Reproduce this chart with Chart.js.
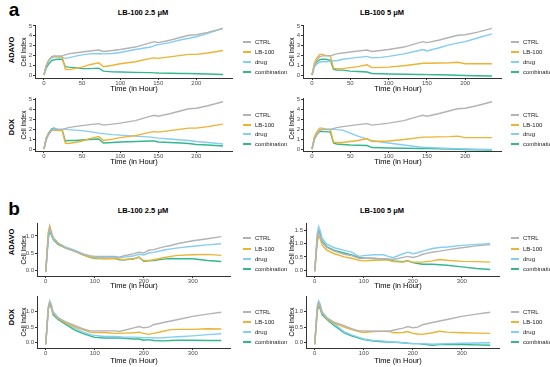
<!DOCTYPE html>
<html>
<head>
<meta charset="utf-8">
<script src="https://cdn.jsdelivr.net/npm/chart.js@4.4.0/dist/chart.umd.min.js"></script>
<style>
  body { margin: 0; width: 550px; height: 367px; background: #fff; position: relative; overflow: hidden; font-family: "Liberation Sans", Arial, sans-serif; }
  canvas { position: absolute; }
  .txt { position: absolute; white-space: nowrap; line-height: 1; }
  .key { position: absolute; height: 1.5px; width: 8px; }
</style>
</head>
<body>
<script>
// Series names + colours
const SERIES = ["CTRL", "LB-100", "drug", "combination"];
const COLORS = ["#b3b3b3", "#ecb335", "#85cdf2", "#33b78e"];

// Time grids (hours)
const HOURS_A = [0, 3, 6, 10, 13, 18, 24, 28, 32, 40, 50, 60, 72, 78, 90, 100, 120, 140, 145, 150, 165, 180, 190, 200, 215, 235];
const HOURS_B = [0, 5, 8, 11, 15, 25, 40, 60, 75, 90, 100, 120, 140, 150, 160, 180, 190, 200, 210, 220, 240, 255, 270, 300, 330, 358];

// Tick labels
const X_TICKS_A = [0, 50, 100, 150, 200];
const Y_TICKS_A = [0, 1, 2, 3, 4, 5];
const X_TICKS_B = [0, 100, 200, 300];
const Y_TICKS_B = [0, 0.5, 1];
const Y_TICKS_B_HI = [0, 0.5, 1, 1.5];

// Panel a
const A_CTRL = [0, 0.9, 1.45, 1.85, 1.95, 1.95, 1.95, 2.05, 2.15, 2.25, 2.35, 2.45, 2.55, 2.4, 2.5, 2.6, 2.85, 3.3, 3.4, 3.3, 3.55, 3.85, 4.05, 4.1, 4.35, 4.75];
const A_LB25 = [0, 1.0, 1.5, 1.85, 1.9, 1.85, 1.85, 0.6, 0.55, 0.65, 0.8, 1.05, 1.25, 0.85, 1.0, 1.15, 1.35, 1.7, 1.75, 1.7, 1.85, 2.0, 2.1, 2.1, 2.25, 2.5];
const A_LB5 = [0, 1.2, 1.7, 2.1, 2.1, 2.0, 1.95, 0.7, 0.65, 0.65, 0.75, 0.85, 1.05, 0.75, 0.78, 0.8, 0.95, 1.15, 1.2, 1.2, 1.22, 1.25, 1.3, 1.15, 1.15, 1.15];
const A_ADAVO_DRUG25 = [0, 0.9, 1.4, 1.75, 1.85, 1.85, 1.8, 1.7, 1.75, 1.9, 2.05, 2.15, 2.2, 2.15, 2.2, 2.3, 2.6, 2.85, 3.0, 3.1, 3.3, 3.6, 3.75, 3.9, 4.25, 4.75];
const A_ADAVO_COMBO25 = [0, 0.7, 1.1, 1.45, 1.55, 1.6, 1.6, 0.85, 0.8, 0.75, 0.65, 0.65, 0.7, 0.4, 0.32, 0.3, 0.27, 0.24, 0.22, 0.2, 0.18, 0.16, 0.15, 0.13, 0.1, 0.05];
const A_ADAVO_DRUG5 = [0, 0.8, 1.1, 1.3, 1.35, 1.35, 1.4, 1.45, 1.45, 1.6, 1.7, 1.8, 1.9, 1.75, 1.8, 1.9, 2.15, 2.5, 2.6, 2.45, 2.75, 3.1, 3.25, 3.4, 3.75, 4.2];
const A_ADAVO_COMBO5 = [0, 0.9, 1.3, 1.55, 1.6, 1.6, 1.5, 0.6, 0.5, 0.5, 0.4, 0.35, 0.3, 0.15, 0.12, 0.1, 0.08, 0.05, 0.05, 0.04, 0.02, 0, -0.02, -0.05, -0.08, -0.1];
const A_DOX_DRUG25 = [0, 1.0, 1.5, 1.9, 2.05, 2.0, 2.0, 2.0, 1.95, 1.9, 1.85, 1.75, 1.6, 1.55, 1.45, 1.4, 1.3, 1.2, 1.15, 1.1, 1.0, 0.9, 0.85, 0.75, 0.65, 0.5];
const A_DOX_COMBO25 = [0, 1.1, 1.6, 2.0, 2.1, 1.95, 1.9, 0.8, 0.85, 0.85, 0.9, 0.95, 1.0, 0.6, 0.65, 0.7, 0.75, 0.8, 0.8, 0.7, 0.65, 0.6, 0.55, 0.45, 0.4, 0.3];
const A_DOX_DRUG5 = [0, 1.0, 1.5, 1.9, 2.0, 2.0, 2.0, 2.0, 1.95, 1.9, 1.6, 1.3, 1.0, 0.85, 0.7, 0.6, 0.4, 0.2, 0.17, 0.15, 0.1, 0.05, 0.03, 0, -0.03, -0.05];
const A_DOX_COMBO5 = [0, 1.0, 1.4, 1.75, 1.75, 1.75, 1.7, 0.6, 0.5, 0.45, 0.4, 0.38, 0.35, 0.15, 0.12, 0.1, 0.08, 0.05, 0.05, 0.05, 0.02, 0, -0.02, -0.05, -0.08, -0.1];

// Panel b
const B_ADAVO25_CTRL = [-0.05, 1.0, 1.25, 1.1, 0.95, 0.8, 0.65, 0.55, 0.47, 0.42, 0.4, 0.4, 0.4, 0.38, 0.42, 0.48, 0.52, 0.5, 0.58, 0.6, 0.68, 0.72, 0.78, 0.86, 0.92, 0.98];
const B_ADAVO25_LB = [-0.05, 1.1, 1.3, 1.15, 0.95, 0.78, 0.65, 0.55, 0.45, 0.37, 0.35, 0.33, 0.33, 0.32, 0.3, 0.33, 0.37, 0.28, 0.28, 0.3, 0.36, 0.4, 0.43, 0.45, 0.46, 0.43];
const B_ADAVO25_DRUG = [-0.05, 1.0, 1.2, 1.1, 0.92, 0.78, 0.68, 0.58, 0.48, 0.4, 0.37, 0.36, 0.37, 0.36, 0.38, 0.42, 0.46, 0.44, 0.5, 0.52, 0.58, 0.62, 0.65, 0.7, 0.74, 0.77];
const B_ADAVO25_COMBO = [-0.05, 0.9, 1.15, 1.05, 0.9, 0.75, 0.65, 0.55, 0.45, 0.37, 0.34, 0.34, 0.35, 0.3, 0.3, 0.33, 0.38, 0.26, 0.27, 0.28, 0.32, 0.34, 0.33, 0.33, 0.28, 0.25];
const B_ADAVO5_CTRL = [-0.05, 1.2, 1.45, 1.3, 1.05, 0.85, 0.72, 0.6, 0.55, 0.45, 0.45, 0.45, 0.42, 0.42, 0.4, 0.48, 0.52, 0.48, 0.52, 0.6, 0.68, 0.72, 0.77, 0.85, 0.92, 0.97];
const B_ADAVO5_LB = [-0.05, 1.05, 1.3, 1.2, 0.95, 0.75, 0.62, 0.5, 0.45, 0.37, 0.35, 0.37, 0.38, 0.38, 0.32, 0.3, 0.34, 0.3, 0.3, 0.3, 0.35, 0.4, 0.37, 0.33, 0.32, 0.3];
const B_ADAVO5_DRUG = [-0.05, 1.4, 1.65, 1.5, 1.2, 0.98, 0.85, 0.75, 0.68, 0.52, 0.55, 0.58, 0.58, 0.52, 0.47, 0.62, 0.68, 0.62, 0.66, 0.72, 0.82, 0.86, 0.88, 0.94, 0.98, 1.0];
const B_ADAVO5_COMBO = [-0.05, 1.25, 1.5, 1.4, 1.1, 0.88, 0.75, 0.65, 0.58, 0.48, 0.46, 0.44, 0.42, 0.4, 0.35, 0.32, 0.35, 0.28, 0.25, 0.22, 0.22, 0.2, 0.18, 0.12, 0.06, 0.02];
const B_DOX25_CTRL = [-0.05, 1.1, 1.3, 1.2, 0.95, 0.8, 0.68, 0.55, 0.45, 0.38, 0.38, 0.38, 0.38, 0.36, 0.4, 0.48, 0.52, 0.48, 0.5, 0.58, 0.65, 0.7, 0.75, 0.85, 0.92, 0.98];
const B_DOX25_LB = [-0.05, 1.1, 1.3, 1.2, 0.95, 0.78, 0.65, 0.5, 0.42, 0.34, 0.33, 0.33, 0.3, 0.3, 0.31, 0.32, 0.34, 0.3, 0.27, 0.3, 0.37, 0.42, 0.43, 0.43, 0.45, 0.44];
const B_DOX25_DRUG = [-0.05, 1.15, 1.35, 1.25, 1.0, 0.82, 0.65, 0.45, 0.35, 0.27, 0.23, 0.2, 0.2, 0.19, 0.18, 0.18, 0.17, 0.15, 0.17, 0.15, 0.16, 0.18, 0.19, 0.22, 0.26, 0.29];
const B_DOX25_COMBO = [-0.05, 1.05, 1.25, 1.15, 0.9, 0.75, 0.6, 0.4, 0.3, 0.22, 0.17, 0.15, 0.15, 0.15, 0.14, 0.12, 0.12, 0.08, 0.1, 0.07, 0.06, 0.07, 0.08, 0.08, 0.07, 0.07];
const B_DOX5_CTRL = [-0.05, 1.1, 1.28, 1.18, 0.95, 0.8, 0.66, 0.55, 0.45, 0.38, 0.38, 0.37, 0.37, 0.36, 0.4, 0.47, 0.52, 0.48, 0.5, 0.58, 0.65, 0.7, 0.75, 0.85, 0.92, 0.98];
const B_DOX5_LB = [-0.05, 1.05, 1.25, 1.15, 0.95, 0.78, 0.62, 0.5, 0.42, 0.36, 0.33, 0.36, 0.37, 0.38, 0.32, 0.33, 0.36, 0.3, 0.28, 0.27, 0.32, 0.37, 0.34, 0.32, 0.31, 0.3];
const B_DOX5_DRUG = [-0.05, 1.2, 1.35, 1.25, 1.0, 0.8, 0.6, 0.35, 0.25, 0.17, 0.12, 0.07, 0.05, 0.03, 0.02, 0.0, -0.02, -0.03, -0.03, -0.03, -0.05, -0.04, -0.03, -0.02, -0.01, 0.0];
const B_DOX5_COMBO = [-0.05, 1.0, 1.2, 1.1, 0.9, 0.75, 0.55, 0.32, 0.22, 0.15, 0.1, 0.05, 0.03, 0.02, 0.02, 0.0, -0.02, -0.03, -0.03, -0.04, -0.08, -0.06, -0.05, -0.06, -0.07, -0.08];

// Layout: plot areas in page pixels + axis ranges
const YW = 14, XH = 10, PAD_T = 6, PAD_R = 4;
const FONT = "'Liberation Sans', Arial, sans-serif";

const PANELS = [
  { hours: HOURS_A, series: [A_CTRL, A_LB25, A_ADAVO_DRUG25, A_ADAVO_COMBO25], xt: X_TICKS_A, yt: Y_TICKS_A, dec: 0,
    l: 35, r: 232, t: 25, b: 78, x: [-11.75, 246.75], y: [-0.306, 5.1] },
  { hours: HOURS_A, series: [A_CTRL, A_LB5, A_ADAVO_DRUG5, A_ADAVO_COMBO5], xt: X_TICKS_A, yt: Y_TICKS_A, dec: 0,
    l: 302.7, r: 500.7, t: 25, b: 78, x: [-11.75, 246.75], y: [-0.306, 5.1] },
  { hours: HOURS_A, series: [A_CTRL, A_LB25, A_DOX_DRUG25, A_DOX_COMBO25], xt: X_TICKS_A, yt: Y_TICKS_A, dec: 0,
    l: 35, r: 232, t: 98, b: 151, x: [-11.75, 246.75], y: [-0.2, 5.13] },
  { hours: HOURS_A, series: [A_CTRL, A_LB5, A_DOX_DRUG5, A_DOX_COMBO5], xt: X_TICKS_A, yt: Y_TICKS_A, dec: 0,
    l: 302.7, r: 500.7, t: 98, b: 151, x: [-11.75, 246.75], y: [-0.2, 5.13] },
  { hours: HOURS_B, series: [B_ADAVO25_CTRL, B_ADAVO25_LB, B_ADAVO25_DRUG, B_ADAVO25_COMBO], xt: X_TICKS_B, yt: Y_TICKS_B, dec: 1,
    l: 37.3, r: 230, t: 223, b: 276, x: [-17.9, 375.9], y: [-0.176, 1.382] },
  { hours: HOURS_B, series: [B_ADAVO5_CTRL, B_ADAVO5_LB, B_ADAVO5_DRUG, B_ADAVO5_COMBO], xt: X_TICKS_B, yt: Y_TICKS_B_HI, dec: 1,
    l: 305.5, r: 498.5, t: 223, b: 276, x: [-17.9, 375.9], y: [-0.229, 1.794] },
  { hours: HOURS_B, series: [B_DOX25_CTRL, B_DOX25_LB, B_DOX25_DRUG, B_DOX25_COMBO], xt: X_TICKS_B, yt: Y_TICKS_B, dec: 1,
    l: 37.3, r: 230, t: 296, b: 348, x: [-17.9, 375.9], y: [-0.171, 1.506] },
  { hours: HOURS_B, series: [B_DOX5_CTRL, B_DOX5_LB, B_DOX5_DRUG, B_DOX5_COMBO], xt: X_TICKS_B, yt: Y_TICKS_B, dec: 1,
    l: 305.5, r: 498.5, t: 296, b: 348, x: [-17.9, 375.9], y: [-0.171, 1.506] },
];

function axis(min, max, ticks, fmt, isX) {
  return {
    type: "linear", min: min, max: max,
    afterFit: (s) => { if (isX) s.height = XH; else s.width = YW; },
    afterBuildTicks: (s) => { s.ticks = ticks.map((v) => ({ value: v })); },
    ticks: { font: { size: 6, family: FONT }, color: "#4d4d4d", padding: isX ? 0 : 1, maxRotation: 0, autoSkip: false, callback: fmt },
    grid: { drawOnChartArea: false, tickLength: 2, color: "#333", lineWidth: 1 },
    border: { color: "#333", width: 1 },
  };
}

function drawPanel(p) {
  const cv = document.createElement("canvas");
  const left = p.l - YW, top = p.t - PAD_T;
  const w = Math.round(p.r - p.l + YW + PAD_R), h = Math.round(p.b - p.t + PAD_T + XH);
  cv.width = w; cv.height = h;
  cv.style.left = left + "px"; cv.style.top = top + "px";
  cv.style.width = w + "px"; cv.style.height = h + "px";
  document.body.appendChild(cv);
  new Chart(cv, {
    type: "line",
    data: {
      datasets: p.series.map((vals, i) => ({
        label: SERIES[i],
        data: p.hours.map((t, k) => ({ x: t, y: vals[k] })),
        borderColor: COLORS[i], borderWidth: 1.4, pointRadius: 0, tension: 0, fill: false,
      })),
    },
    options: {
      responsive: false, animation: false,
      layout: { padding: { top: PAD_T, right: PAD_R, left: 0, bottom: 0 } },
      plugins: { legend: { display: false }, tooltip: { enabled: false } },
      scales: {
        x: axis(p.x[0], p.x[1], p.xt, (v) => String(v), true),
        y: axis(p.y[0], p.y[1], p.yt, (v) => v.toFixed(p.dec), false),
      },
    },
  });
}

// Text helpers
function text(str, x, y, size, opts = {}) {
  const d = document.createElement("div");
  d.className = "txt";
  d.textContent = str;
  d.style.left = x + "px"; d.style.top = y + "px";
  d.style.fontSize = size + "px";
  d.style.fontWeight = opts.bold ? "bold" : "normal";
  d.style.color = opts.color || "#000";
  const tr = opts.anchor === "left" ? "translate(0,-50%)" : "translate(-50%,-50%)";
  d.style.transform = tr + (opts.rotate ? " rotate(-90deg)" : "");
  document.body.appendChild(d);
}

function legend(x, ys) {
  SERIES.forEach((s, i) => {
    const k = document.createElement("div");
    k.className = "key";
    k.style.left = x + "px"; k.style.top = ys[i] - 0.75 + "px";
    k.style.background = COLORS[i];
    document.body.appendChild(k);
    text(s, x + 12, ys[i], 6, { anchor: "left", color: "#222" });
  });
}

PANELS.forEach(drawPanel);

// Panel letters + titles
text("a", 14, 9, 19, { bold: true });
text("b", 14, 208, 19, { bold: true });
text("LB-100 2.5 μM", 143, 12.5, 7.5, { bold: true });
text("LB-100 5 μM", 382, 12.5, 7.5, { bold: true });
text("LB-100 2.5 μM", 143, 211, 7.5, { bold: true });
text("LB-100 5 μM", 382, 211, 7.5, { bold: true });

// Row labels
text("ADAVO", 12, 50, 7.5, { bold: true, rotate: true });
text("DOX", 12, 127, 7.5, { bold: true, rotate: true });
text("ADAVO", 12, 242, 7.5, { bold: true, rotate: true });
text("DOX", 12, 317, 7.5, { bold: true, rotate: true });

// Axis titles
[[52, 89], [125, 162], [250, 286], [322, 361]].forEach(([cy, ty]) => {
  text("Cell Index", 24, cy, 6.5, { rotate: true });
  text("Cell Index", 292, cy, 6.5, { rotate: true });
  text("Time (in Hour)", 134, ty, 7.5);
  text("Time (in Hour)", 398, ty, 7.5);
});

// Legends
legend(243, [42, 52, 62, 72]);
legend(511, [42, 52, 62, 72]);
legend(243, [115, 125, 134, 144]);
legend(511, [115, 125, 134, 144]);
legend(243, [238, 249, 259, 269]);
legend(511, [238, 249, 259, 269]);
legend(243, [312, 322, 332, 342]);
legend(511, [312, 322, 332, 342]);
</script>
</body>
</html>
